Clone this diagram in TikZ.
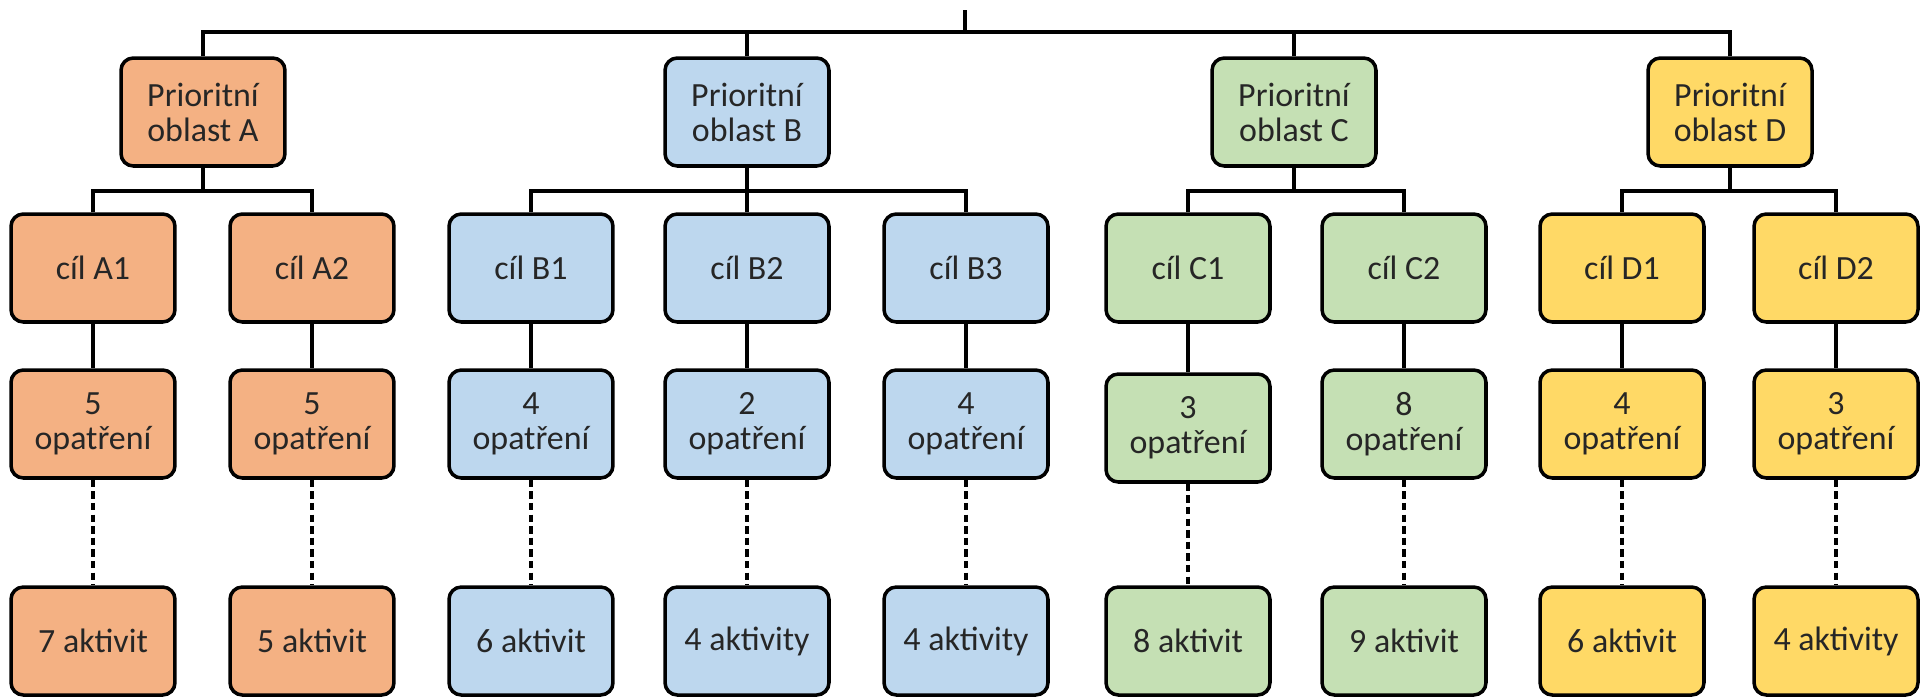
\documentclass[tikz,border=0pt]{standalone}
\usepackage{fontspec}
\setmainfont{Carlito}
\usepackage{xcolor}
\usepackage{tikz}
\definecolor{myorange}{RGB}{244,177,131}
\definecolor{myblue}{RGB}{189,215,238}
\definecolor{mygreen}{RGB}{197,224,180}
\definecolor{myyellow}{RGB}{255,217,102}
\newcommand{\opat}[1]{#1\\opatření}

\begin{document}
\begin{tikzpicture}[x=0.02cm, y=-0.02cm,
      box/.style={draw, rounded corners=7pt, fill=#1, line width=2pt,
                  minimum width=3.28cm, minimum height=2.16cm, inner sep=0pt,
                  align=center, text=black!85, font=\fontsize{19.3}{19.9}\selectfont},
      conn/.style={line width=2pt},
      dconn/.style={line width=2.1pt, dash pattern=on 4.2pt off 2.4pt}
  ]
    \useasboundingbox (0,0) rectangle (1920,698);

    % prioritni oblasti
    \node[box=myorange] (oblA) at (203,112) {Prioritní\\oblast A};
    \node[box=myblue]   (oblB) at (747,112) {Prioritní\\oblast B};
    \node[box=mygreen]  (oblC) at (1294,112) {Prioritní\\oblast C};
    \node[box=myyellow] (oblD) at (1730,112) {Prioritní\\oblast D};

    % cile
    \node[box=myorange] (cilA1) at (93,268) {cíl A1};
    \node[box=myorange] (cilA2) at (312,268) {cíl A2};
    \node[box=myblue]   (cilB1) at (531,268) {cíl B1};
    \node[box=myblue]   (cilB2) at (747,268) {cíl B2};
    \node[box=myblue]   (cilB3) at (966,268) {cíl B3};
    \node[box=mygreen]  (cilC1) at (1188,268) {cíl C1};
    \node[box=mygreen]  (cilC2) at (1404,268) {cíl C2};
    \node[box=myyellow] (cilD1) at (1622,268) {cíl D1};
    \node[box=myyellow] (cilD2) at (1836,268) {cíl D2};

    % opatreni
    \node[box=myorange] (opA1) at (93,424) {\opat{5}};
    \node[box=myorange] (opA2) at (312,424) {\opat{5}};
    \node[box=myblue]   (opB1) at (531,424) {\opat{4}};
    \node[box=myblue]   (opB2) at (747,424) {\opat{2}};
    \node[box=myblue]   (opB3) at (966,424) {\opat{4}};
    \node[box=mygreen]  (opC1) at (1188,428) {\opat{3}};
    \node[box=mygreen]  (opC2) at (1404,424) {\opat{8}};
    \node[box=myyellow] (opD1) at (1622,424) {\opat{4}};
    \node[box=myyellow] (opD2) at (1836,424) {\opat{3}};

    % aktivity
    \node[box=myorange] (akA1) at (93,641) {7 aktivit};
    \node[box=myorange] (akA2) at (312,641) {5 aktivit};
    \node[box=myblue]   (akB1) at (531,641) {6 aktivit};
    \node[box=myblue]   (akB2) at (747,641) {4 aktivity};
    \node[box=myblue]   (akB3) at (966,641) {4 aktivity};
    \node[box=mygreen]  (akC1) at (1188,641) {8 aktivit};
    \node[box=mygreen]  (akC2) at (1404,641) {9 aktivit};
    \node[box=myyellow] (akD1) at (1622,641) {6 aktivit};
    \node[box=myyellow] (akD2) at (1836,641) {4 aktivity};

    % top level bar
    \coordinate (top) at (965,10);
    \coordinate (bar0) at (0,32);
    \coordinate (bar1) at (0,191);
    \draw[conn, line width=2.8pt] (top) -- (top |- bar0);
    \draw[conn] (oblA.north) |- (top |- bar0);
    \draw[conn] (oblB.north) |- (top |- bar0);
    \draw[conn] (oblC.north) |- (top |- bar0);
    \draw[conn] (oblD.north) |- (top |- bar0);

    % oblast -> cil
    \draw[conn] (cilA1.north) |- (oblA.south |- bar1) -- (oblA.south);
    \draw[conn] (cilA2.north) |- (oblA.south |- bar1);
    \draw[conn] (cilB1.north) |- (oblB.south |- bar1) -- (oblB.south);
    \draw[conn] (cilB2.north) -- (oblB.south);
    \draw[conn] (cilB3.north) |- (oblB.south |- bar1);
    \draw[conn] (cilC1.north) |- (oblC.south |- bar1) -- (oblC.south);
    \draw[conn] (cilC2.north) |- (oblC.south |- bar1);
    \draw[conn] (cilD1.north) |- (oblD.south |- bar1) -- (oblD.south);
    \draw[conn] (cilD2.north) |- (oblD.south |- bar1);

    % cil -> opatreni
    \draw[conn] (cilA1) -- (opA1);
    \draw[conn] (cilA2) -- (opA2);
    \draw[conn] (cilB1) -- (opB1);
    \draw[conn] (cilB2) -- (opB2);
    \draw[conn] (cilB3) -- (opB3);
    \draw[conn] (cilC1) -- (opC1);
    \draw[conn] (cilC2) -- (opC2);
    \draw[conn] (cilD1) -- (opD1);
    \draw[conn] (cilD2) -- (opD2);

    % opatreni -> aktivity
    \draw[dconn] (opA1) -- (akA1);
    \draw[dconn] (opA2) -- (akA2);
    \draw[dconn] (opB1) -- (akB1);
    \draw[dconn] (opB2) -- (akB2);
    \draw[dconn] (opB3) -- (akB3);
    \draw[dconn] (opC1) -- (akC1);
    \draw[dconn] (opC2) -- (akC2);
    \draw[dconn] (opD1) -- (akD1);
    \draw[dconn] (opD2) -- (akD2);
  \end{tikzpicture}
\end{document}
